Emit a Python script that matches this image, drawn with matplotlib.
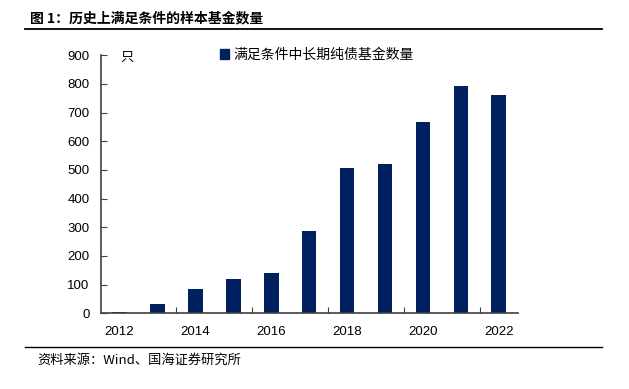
import numpy as np
import matplotlib.pyplot as plt
from matplotlib.patches import Patch
from matplotlib.lines import Line2D

plt.rcParams['font.family'] = ['Liberation Sans', 'Noto Sans CJK SC']

years = [2012, 2013, 2014, 2015, 2016, 2017, 2018, 2019, 2020, 2021, 2022]
counts = [3, 34, 84, 121, 142, 286, 507, 521, 667, 793, 760]
series_name = '满足条件中长期纯债基金数量'
title = '图 1：历史上满足条件的样本基金数量'
source = '资料来源：Wind、国海证券研究所'
bar_color = '#002060'
axis_color = '#404040'

fig = plt.figure(figsize=(6.29, 3.89), dpi=100)
ax = fig.add_axes([0.160, 0.1946, 0.663, 0.6632])

x = np.arange(len(years))
ax.bar(x, counts, width=0.385, color=bar_color)

ax.set_xlim(-0.5, len(years) - 0.5)
ax.set_ylim(0, 900)
ax.set_yticks(np.arange(0, 901, 100))

# boundary ticks every two categories, labels on even years
ax.set_xticks(np.arange(1.5, len(years) - 1, 2))
ax.set_xticklabels([])
ax.set_xticks(x[::2], minor=True)
ax.set_xticklabels([str(y) for y in years[::2]], minor=True)
ax.tick_params(axis='x', which='major', direction='in', length=4, color=axis_color)
ax.tick_params(axis='x', which='minor', length=0, pad=9, labelsize=9.5)
ax.tick_params(axis='y', direction='in', length=4, pad=8, labelsize=9.5, color=axis_color)

for s in ['top', 'right']:
    ax.spines[s].set_visible(False)
for s in ['left', 'bottom']:
    ax.spines[s].set_color(axis_color)
    ax.spines[s].set_linewidth(1.2)

fig.text(120 / 629, 1 - 57 / 389, '只', fontsize=9.5, va='center', ha='left',
         family=['Noto Sans CJK SC'])

ax.legend(handles=[Patch(color=bar_color, label=series_name)], loc='upper left',
          bbox_to_anchor=(220 / 629, 1 - 48 / 389), bbox_transform=fig.transFigure,
          frameon=False, borderpad=0, borderaxespad=0, handlelength=0.65,
          handleheight=0.65, handletextpad=0.3, prop={'family': 'Noto Sans CJK SC', 'size': 10})

fig.text(30 / 629, 1 - 18 / 389, title, fontsize=10, fontweight='bold',
         va='center', ha='left', family=['Noto Sans CJK SC'])
fig.add_artist(Line2D([25 / 629, 602 / 629], [1 - 29.3 / 389, 1 - 29.3 / 389],
                      color='black', lw=1.3, transform=fig.transFigure))
fig.add_artist(Line2D([25 / 629, 602 / 629], [1 - 347 / 389, 1 - 347 / 389],
                      color='black', lw=1.0, transform=fig.transFigure))
fig.text(37 / 629, 1 - 360 / 389, source, fontsize=9.5, va='center', ha='left',
         family=['Noto Sans CJK SC', 'Liberation Sans'])

fig.savefig('out.png', dpi=100)
